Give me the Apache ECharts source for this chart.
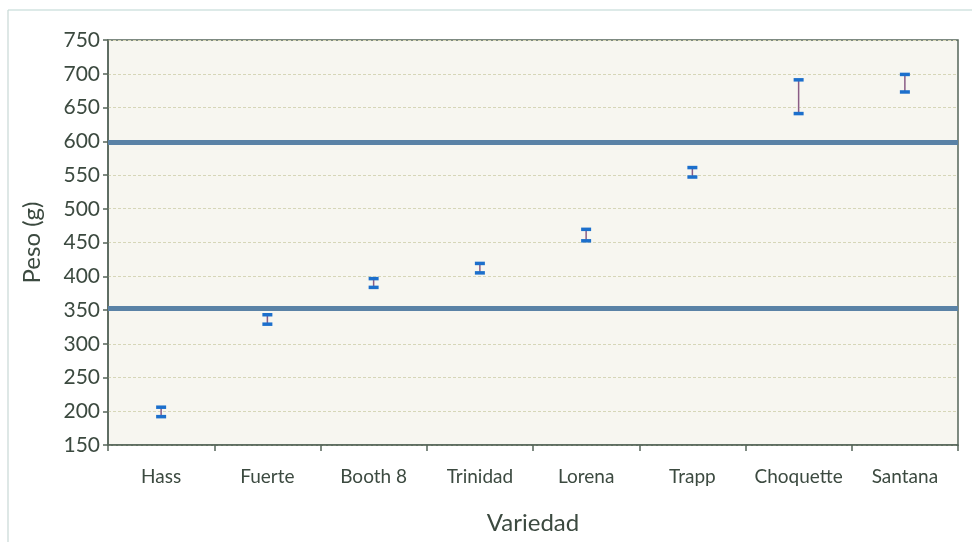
<!DOCTYPE html>
<html>
<head>
<meta charset="utf-8">
<script src="https://cdn.jsdelivr.net/npm/echarts@6/dist/echarts.min.js"></script>
<style>
  html, body { margin: 0; padding: 0; background: #ffffff; }
  #chart { width: 972px; height: 542px; }
</style>
</head>
<body>
<div id="chart"></div>
<script>
// Avocado varieties and their mean fruit weight (g) with error half-widths
const categories = ['Hass', 'Fuerte', 'Booth 8', 'Trinidad', 'Lorena', 'Trapp', 'Choquette', 'Santana'];
const meanWeight = [199, 336, 390, 412, 461, 554, 666, 686];
const errorHalf = [7, 7, 6.5, 7, 8.5, 7, 25, 13];
// Reference weight limits drawn as horizontal bands
const limitLines = [598, 353];
const yTicks = { min: 150, max: 750, interval: 50 };

const errorData = categories.map((c, i) => [i, meanWeight[i] - errorHalf[i], meanWeight[i] + errorHalf[i]]);

const textColor = '#3c4a40';
const axisColor = '#56655a';
const font = 'Lato, "Open Sans", sans-serif';

const chart = echarts.init(document.getElementById('chart'));
chart.setOption({
  backgroundColor: '#ffffff',
  animation: false,
  graphic: [
    // page frame
    { type: 'line', shape: { x1: 8, y1: 10, x2: 972, y2: 10 }, style: { stroke: '#bcd6d2', lineWidth: 1.2 }, silent: true },
    { type: 'line', shape: { x1: 8, y1: 10, x2: 8, y2: 542 }, style: { stroke: '#c8d8d6', lineWidth: 1.2 }, silent: true }
  ],
  grid: {
    left: 108, top: 40, right: 14, bottom: 97,
    show: true,
    backgroundColor: '#f7f6f0',
    borderColor: axisColor,
    borderWidth: 1.5
  },
  xAxis: {
    type: 'category',
    data: categories,
    boundaryGap: true,
    name: 'Variedad',
    nameLocation: 'middle',
    nameGap: 66,
    nameTextStyle: { color: textColor, fontSize: 24, fontFamily: font },
    axisLine: { lineStyle: { color: axisColor, width: 1.5 } },
    axisTick: { show: true, length: 6, lineStyle: { color: axisColor, width: 1.5 } },
    axisLabel: { color: textColor, fontSize: 19, fontFamily: font, margin: 22, interval: 0 },
    splitLine: { show: false }
  },
  yAxis: {
    type: 'value',
    min: yTicks.min,
    max: yTicks.max,
    interval: yTicks.interval,
    name: 'Peso (g)',
    nameLocation: 'middle',
    nameGap: 64,
    nameRotate: 90,
    nameTextStyle: { color: textColor, fontSize: 24, fontFamily: font },
    axisLine: { show: true, lineStyle: { color: axisColor, width: 1.5 } },
    axisTick: { show: true, length: 5, lineStyle: { color: axisColor, width: 1.5 } },
    axisLabel: { color: textColor, fontSize: 21, fontFamily: font, margin: 8 },
    splitLine: { show: true, lineStyle: { color: '#d6d6b8', type: [3, 2], width: 1 } }
  },
  series: [
    {
      type: 'custom',
      data: errorData,
      encode: { x: 0, y: [1, 2] },
      renderItem: function (params, api) {
        const idx = api.value(0);
        const lo = api.coord([idx, api.value(1)]);
        const hi = api.coord([idx, api.value(2)]);
        const hw = 5;
        return {
          type: 'group',
          children: [
            { type: 'line', shape: { x1: lo[0], y1: lo[1], x2: hi[0], y2: hi[1] }, style: { stroke: '#8a5c86', lineWidth: 1.5 } },
            { type: 'line', shape: { x1: hi[0] - hw, y1: hi[1], x2: hi[0] + hw, y2: hi[1] }, style: { stroke: '#1c6fcc', lineWidth: 3.5 } },
            { type: 'line', shape: { x1: lo[0] - hw, y1: lo[1], x2: lo[0] + hw, y2: lo[1] }, style: { stroke: '#1c6fcc', lineWidth: 3.5 } }
          ]
        };
      },
      markLine: {
        silent: true,
        symbol: ['none', 'none'],
        label: { show: false },
        lineStyle: { color: '#5a82a6', width: 5, type: 'solid' },
        data: limitLines.map(v => ({ yAxis: v }))
      },
      z: 3
    }
  ]
});
</script>
</body>
</html>
